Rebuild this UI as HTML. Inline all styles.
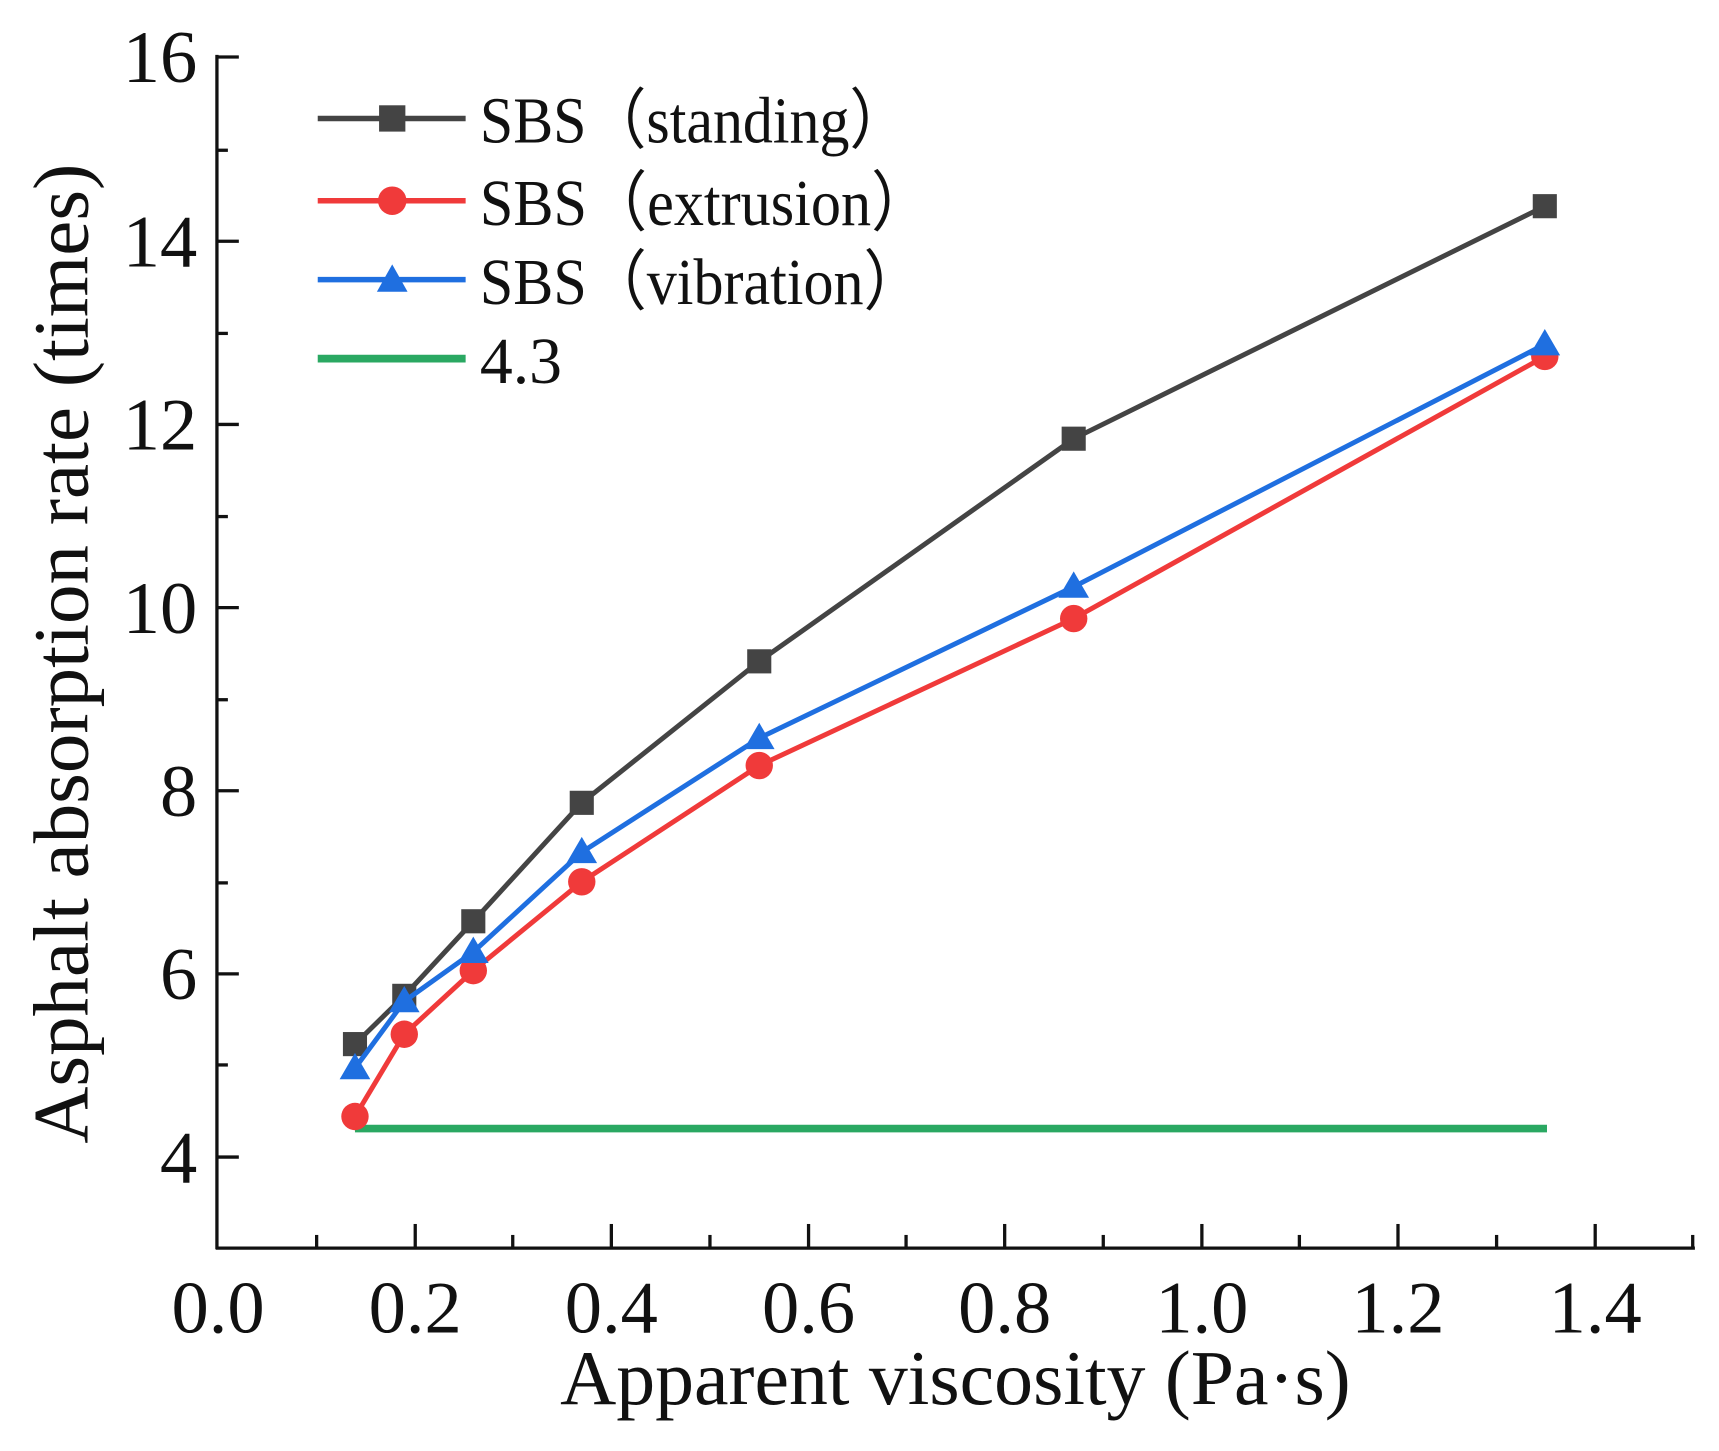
<!DOCTYPE html>
<html><head><meta charset="utf-8"><style>
html,body{margin:0;padding:0;background:#fff;}
svg{display:block;}
text{font-family:"Liberation Serif","Times New Roman",serif;fill:#111;}
</style></head><body>
<svg width="1719" height="1451" viewBox="0 0 1569 1323" preserveAspectRatio="none" xmlns="http://www.w3.org/2000/svg">
<rect width="1569" height="1323" fill="#fff"/>
<g stroke="#111" stroke-width="3" fill="none">
<line x1="198" y1="50" x2="198" y2="1139"/>
<line x1="197" y1="1138" x2="1547" y2="1138"/>
<line x1="198" y1="52" x2="218" y2="52"/>
<line x1="198" y1="137" x2="208" y2="137"/>
<line x1="198" y1="220" x2="218" y2="220"/>
<line x1="198" y1="304" x2="208" y2="304"/>
<line x1="198" y1="387" x2="218" y2="387"/>
<line x1="198" y1="471" x2="208" y2="471"/>
<line x1="198" y1="554" x2="218" y2="554"/>
<line x1="198" y1="638" x2="208" y2="638"/>
<line x1="198" y1="721" x2="218" y2="721"/>
<line x1="198" y1="805" x2="208" y2="805"/>
<line x1="198" y1="888" x2="218" y2="888"/>
<line x1="198" y1="971" x2="208" y2="971"/>
<line x1="198" y1="1055" x2="218" y2="1055"/>
<line x1="289" y1="1138" x2="289" y2="1126"/>
<line x1="379" y1="1138" x2="379" y2="1116"/>
<line x1="468" y1="1138" x2="468" y2="1126"/>
<line x1="558" y1="1138" x2="558" y2="1116"/>
<line x1="648" y1="1138" x2="648" y2="1126"/>
<line x1="738" y1="1138" x2="738" y2="1116"/>
<line x1="827" y1="1138" x2="827" y2="1126"/>
<line x1="917" y1="1138" x2="917" y2="1116"/>
<line x1="1007" y1="1138" x2="1007" y2="1126"/>
<line x1="1097" y1="1138" x2="1097" y2="1116"/>
<line x1="1186" y1="1138" x2="1186" y2="1126"/>
<line x1="1276" y1="1138" x2="1276" y2="1116"/>
<line x1="1366" y1="1138" x2="1366" y2="1126"/>
<line x1="1456" y1="1138" x2="1456" y2="1116"/>
<line x1="1545" y1="1138" x2="1545" y2="1126"/>
</g>
<g font-size="68" text-anchor="end">
<text x="180" y="75">16</text>
<text x="180" y="243">14</text>
<text x="180" y="410">12</text>
<text x="180" y="577">10</text>
<text x="180" y="744">8</text>
<text x="180" y="911">6</text>
<text x="180" y="1078">4</text>
</g>
<g font-size="68" text-anchor="middle">
<text x="199" y="1215">0.0</text>
<text x="379" y="1215">0.2</text>
<text x="558" y="1215">0.4</text>
<text x="738" y="1215">0.6</text>
<text x="917" y="1215">0.8</text>
<text x="1097" y="1215">1.0</text>
<text x="1276" y="1215">1.2</text>
<text x="1456" y="1215">1.4</text>
</g>
<text x="872" y="1280" font-size="71" text-anchor="middle">Apparent viscosity (Pa·s)</text>
<text transform="translate(80,596) rotate(-90)" font-size="72" text-anchor="middle">Asphalt absorption rate (times)</text>
<line x1="324" y1="1029" x2="1412" y2="1029" stroke="#2aa862" stroke-width="7"/>
<polyline fill="none" stroke="#444" stroke-width="4.5" points="324,952 369,908 432,840 531,732 693,603 980,400 1410,188"/>
<g fill="#444">
<rect x="313" y="941" width="22" height="22"/><rect x="358" y="897" width="22" height="22"/><rect x="421" y="829" width="22" height="22"/><rect x="520" y="721" width="22" height="22"/><rect x="682" y="592" width="22" height="22"/><rect x="969" y="389" width="22" height="22"/><rect x="1399" y="177" width="22" height="22"/>
</g>
<polyline fill="none" stroke="#f03a3a" stroke-width="4.5" points="324,1018 369,943 432,885 531,804 693,698 980,564 1410,325"/>
<g fill="#f03a3a">
<circle cx="324" cy="1018" r="12.5"/><circle cx="369" cy="943" r="12.5"/><circle cx="432" cy="885" r="12.5"/><circle cx="531" cy="804" r="12.5"/><circle cx="693" cy="698" r="12.5"/><circle cx="980" cy="564" r="12.5"/><circle cx="1410" cy="325" r="12.5"/>
</g>
<polyline fill="none" stroke="#1f6fe0" stroke-width="4.5" points="324,974 369,913 432,868 531,777 693,673 980,535 1410,314"/>
<g fill="#1f6fe0">
<polygon points="324,960 338,984 310,984"/><polygon points="369,899 383,923 355,923"/><polygon points="432,854 446,878 418,878"/><polygon points="531,763 545,787 517,787"/><polygon points="693,659 707,683 679,683"/><polygon points="980,521 994,545 966,545"/><polygon points="1410,300 1424,324 1396,324"/>
</g>
<line x1="290" y1="108" x2="425" y2="108" stroke="#444" stroke-width="5"/>
<rect x="346" y="96" width="24" height="24" fill="#444"/>
<line x1="290" y1="183" x2="425" y2="183" stroke="#f03a3a" stroke-width="5"/>
<circle cx="358" cy="183" r="13" fill="#f03a3a"/>
<line x1="290" y1="255" x2="425" y2="255" stroke="#1f6fe0" stroke-width="5"/>
<polygon points="358,241 372,266 344,266" fill="#1f6fe0"/>
<line x1="290" y1="327" x2="425" y2="327" stroke="#2aa862" stroke-width="7"/>
<g font-size="60">
<text x="438" y="130" textLength="392" lengthAdjust="spacingAndGlyphs">SBS（standing）</text>
<text x="438" y="205" textLength="412" lengthAdjust="spacingAndGlyphs">SBS（extrusion）</text>
<text x="438" y="277" textLength="405" lengthAdjust="spacingAndGlyphs">SBS（vibration）</text>
<text x="438" y="349">4.3</text>
</g>
</svg>
</body></html>
